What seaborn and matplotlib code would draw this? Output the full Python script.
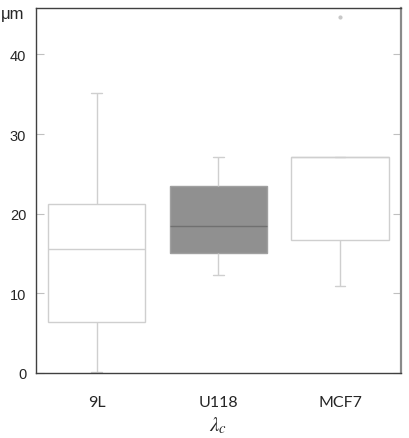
import pandas as pd
import numpy as np
import seaborn as sns
import matplotlib.pyplot as plt

# values (5 points per group give the box stats directly)
cell_lines = ["9L", "U118", "MCF7"]
values_9l = [0.1, 6.4, 15.6, 21.2, 35.2]
values_u118 = [12.25, 15.0, 18.4, 23.5, 27.1]
values_mcf7 = [10.9, 16.7, 27.1, 27.1, 44.7]
box_colors = {"9L": "white", "U118": "#909090", "MCF7": "white"}

data = pd.DataFrame({
    "Cell": np.repeat(cell_lines, 5),
    "Value": values_9l + values_u118 + values_mcf7,
})

sns.set_style("white")
plt.rcParams["mathtext.fontset"] = "stix"

fig = plt.figure(figsize=(4.09, 4.39), dpi=100)
ax = fig.add_axes([0.088, 0.1487, 0.892, 0.8301])

edge = "#cfcfcf"
sns.boxplot(data=data, x="Cell", y="Value", hue="Cell", order=cell_lines,
            palette=box_colors, legend=False, width=0.8, ax=ax,
            linewidth=1.0, linecolor=edge, capwidths=0.09,
            flierprops={"marker": "o", "markersize": 2,
                        "markerfacecolor": "#c8c8c8", "markeredgecolor": "#c8c8c8"})

# darker edge / median on the filled box
for patch, name in zip(ax.patches, cell_lines):
    if name == "U118":
        patch.set_edgecolor("#a0a0a0")
n_per = len(ax.lines) // 3
ax.lines[n_per + 4].set_color("#707070")

ax.set_ylim(0, 45.8)
ax.set_xlim(-0.5, 2.5)
ax.set_yticks([0, 10, 20, 30, 40])
ax.tick_params(axis="y", direction="in", length=6, color="#c0c0c0",
               left=True, right=True, labelsize=10.5, pad=7,
               labelfontfamily="Liberation Sans")
ax.tick_params(axis="x", length=0, labelsize=11.5, pad=16,
               labelfontfamily="Lato")

for side in ["left", "bottom", "top"]:
    ax.spines[side].set_color("#404040")
    ax.spines[side].set_linewidth(1.0)
ax.spines["right"].set_color("#8a8a8a")
ax.spines["right"].set_linewidth(1.6)

ax.set_ylabel("")
ax.set_xlabel(r"$\lambda_c$", fontsize=15, labelpad=4)
fig.text(1 / 409, 1 - 14 / 439, "μm", ha="left", va="center",
         fontsize=12, family="Liberation Sans")

fig.savefig("out.png", dpi=100)
